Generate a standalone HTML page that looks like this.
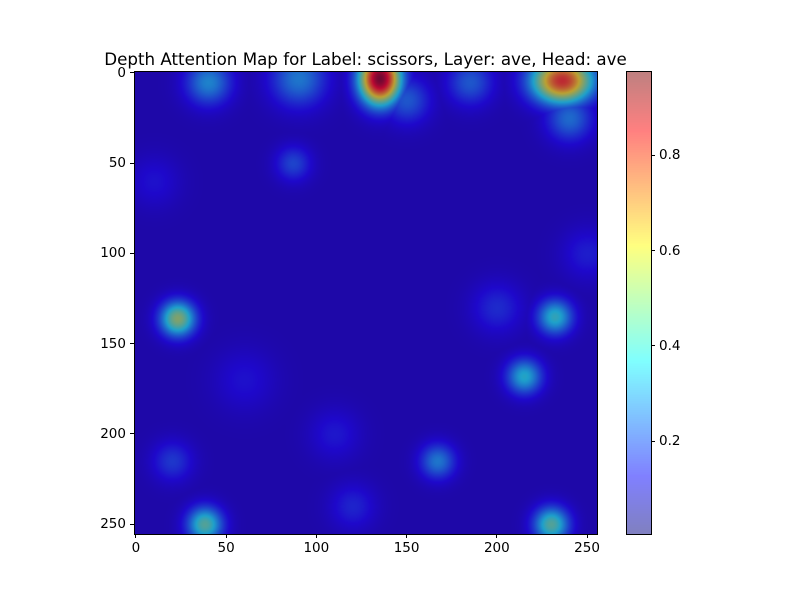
<!DOCTYPE html>
<html><head><meta charset="utf-8">
<style>
body{margin:0;background:#fff;font-family:"DejaVu Sans","Liberation Sans",sans-serif;}
#wrap{position:relative;width:800px;height:600px;overflow:hidden;}
canvas{position:absolute;}
.t{position:absolute;font-size:13.5px;color:#000;}
.tk{position:absolute;background:#000;}
</style></head>
<body>
<div id="wrap">
<div class="t" style="left:0;width:731px;text-align:center;top:49px;font-size:16.7px;white-space:nowrap;">Depth Attention Map for Label: scissors, Layer: ave, Head: ave</div>
<canvas id="hm" width="462" height="462" style="left:135px;top:72px"></canvas>
<div style="position:absolute;left:134px;top:71px;width:462px;height:462px;border:1px solid #000;"></div>
<canvas id="cb" width="24" height="462" style="left:627px;top:72px"></canvas>
<div style="position:absolute;left:626px;top:71px;width:24px;height:462px;border:1px solid #000;"></div>
<div id="ticks"></div>
</div>
<script>
const blobX=[135,236,40,90,185,23,232,215,38,230,167,87,150,240,20,120,60,110,200,250,10];
const blobY=[3,4,5,3,5,136,135,168,250,250,215,50,15,25,215,240,170,200,130,100,60];
const blobVal=[0.97,0.8,0.32,0.3,0.25,0.52,0.4,0.38,0.45,0.45,0.3,0.22,0.25,0.28,0.2,0.17,0.14,0.15,0.18,0.16,0.14];
const blobSigmaX=[8,12,9,11,9,7,7,7,7,7,7,7,9,9,8,9,12,10,10,10,10];
const blobSigmaY=[10,9,9,11,9,7,7,7,7,7,7,7,9,9,8,9,12,10,10,10,10];
const baseVal=0.07;
const xTicks=[0,50,100,150,200,250];
const yTicks=[0,50,100,150,200,250];
const cbTicks=[0.2,0.4,0.6,0.8];
const vmin=0.005,vmax=0.975;
const X0=135,Y0=72,S=462,N=256;
function px(v){return X0+(v+0.5)/N*S;}
function py(v){return Y0+(v+0.5)/N*S;}
function cbY(v){return Y0+S-(v-vmin)/(vmax-vmin)*S;}
function jet(t){t=Math.max(0,Math.min(1,t));
 const f=(a)=>Math.max(0,Math.min(1,1.5-Math.abs(4*t-a)));
 return [f(3),f(2),f(1)];}
const hm=document.getElementById('hm').getContext('2d');
const img=hm.createImageData(S,S);
for(let j=0;j<S;j++){for(let i=0;i<S;i++){
 const dx=i/S*N-0.5,dy=j/S*N-0.5;
 let v=baseVal-0.03*Math.exp(-((dx-130)**2+(dy-110)**2)/(2*50*50));
 for(let k=0;k<blobX.length;k++){
  const r2=(dx-blobX[k])**2/(2*blobSigmaX[k]**2)+(dy-blobY[k])**2/(2*blobSigmaY[k]**2);
  v=Math.max(v,baseVal+(blobVal[k]-baseVal)*Math.exp(-r2));}
 const c=jet((v-vmin)/(vmax-vmin));const o=(j*S+i)*4;
 img.data[o]=c[0]*0.62*255+30;img.data[o+1]=c[1]*0.6*255+8;img.data[o+2]=c[2]*0.6*255+50;img.data[o+3]=255;}}
hm.putImageData(img,0,0);
const cb=document.getElementById('cb').getContext('2d');
for(let j=0;j<S;j++){const c=jet(1-j/S);
 cb.fillStyle=`rgb(${Math.round(c[0]*127+128)},${Math.round(c[1]*127+128)},${Math.round(c[2]*127+128)})`;
 cb.fillRect(0,j,24,1);}
const tk=document.getElementById('ticks');
function add(html){tk.insertAdjacentHTML('beforeend',html);}
xTicks.forEach(v=>{const x=px(v);
 add(`<div class="tk" style="left:${x-0.5}px;top:534px;width:1px;height:4px"></div>`);
 add(`<div class="t" style="left:${x-20}px;width:40px;text-align:center;top:540px">${v}</div>`);});
yTicks.forEach(v=>{const y=py(v);
 add(`<div class="tk" style="left:130px;top:${y-0.5}px;width:4px;height:1px"></div>`);
 add(`<div class="t" style="left:88px;width:38px;text-align:right;top:${y-8}px">${v}</div>`);});
cbTicks.forEach(v=>{const y=cbY(v);
 add(`<div class="tk" style="left:651px;top:${y-0.5}px;width:4px;height:1px"></div>`);
 add(`<div class="t" style="left:659px;top:${y-8}px">${v.toFixed(1)}</div>`);});
</script>
</body></html>
